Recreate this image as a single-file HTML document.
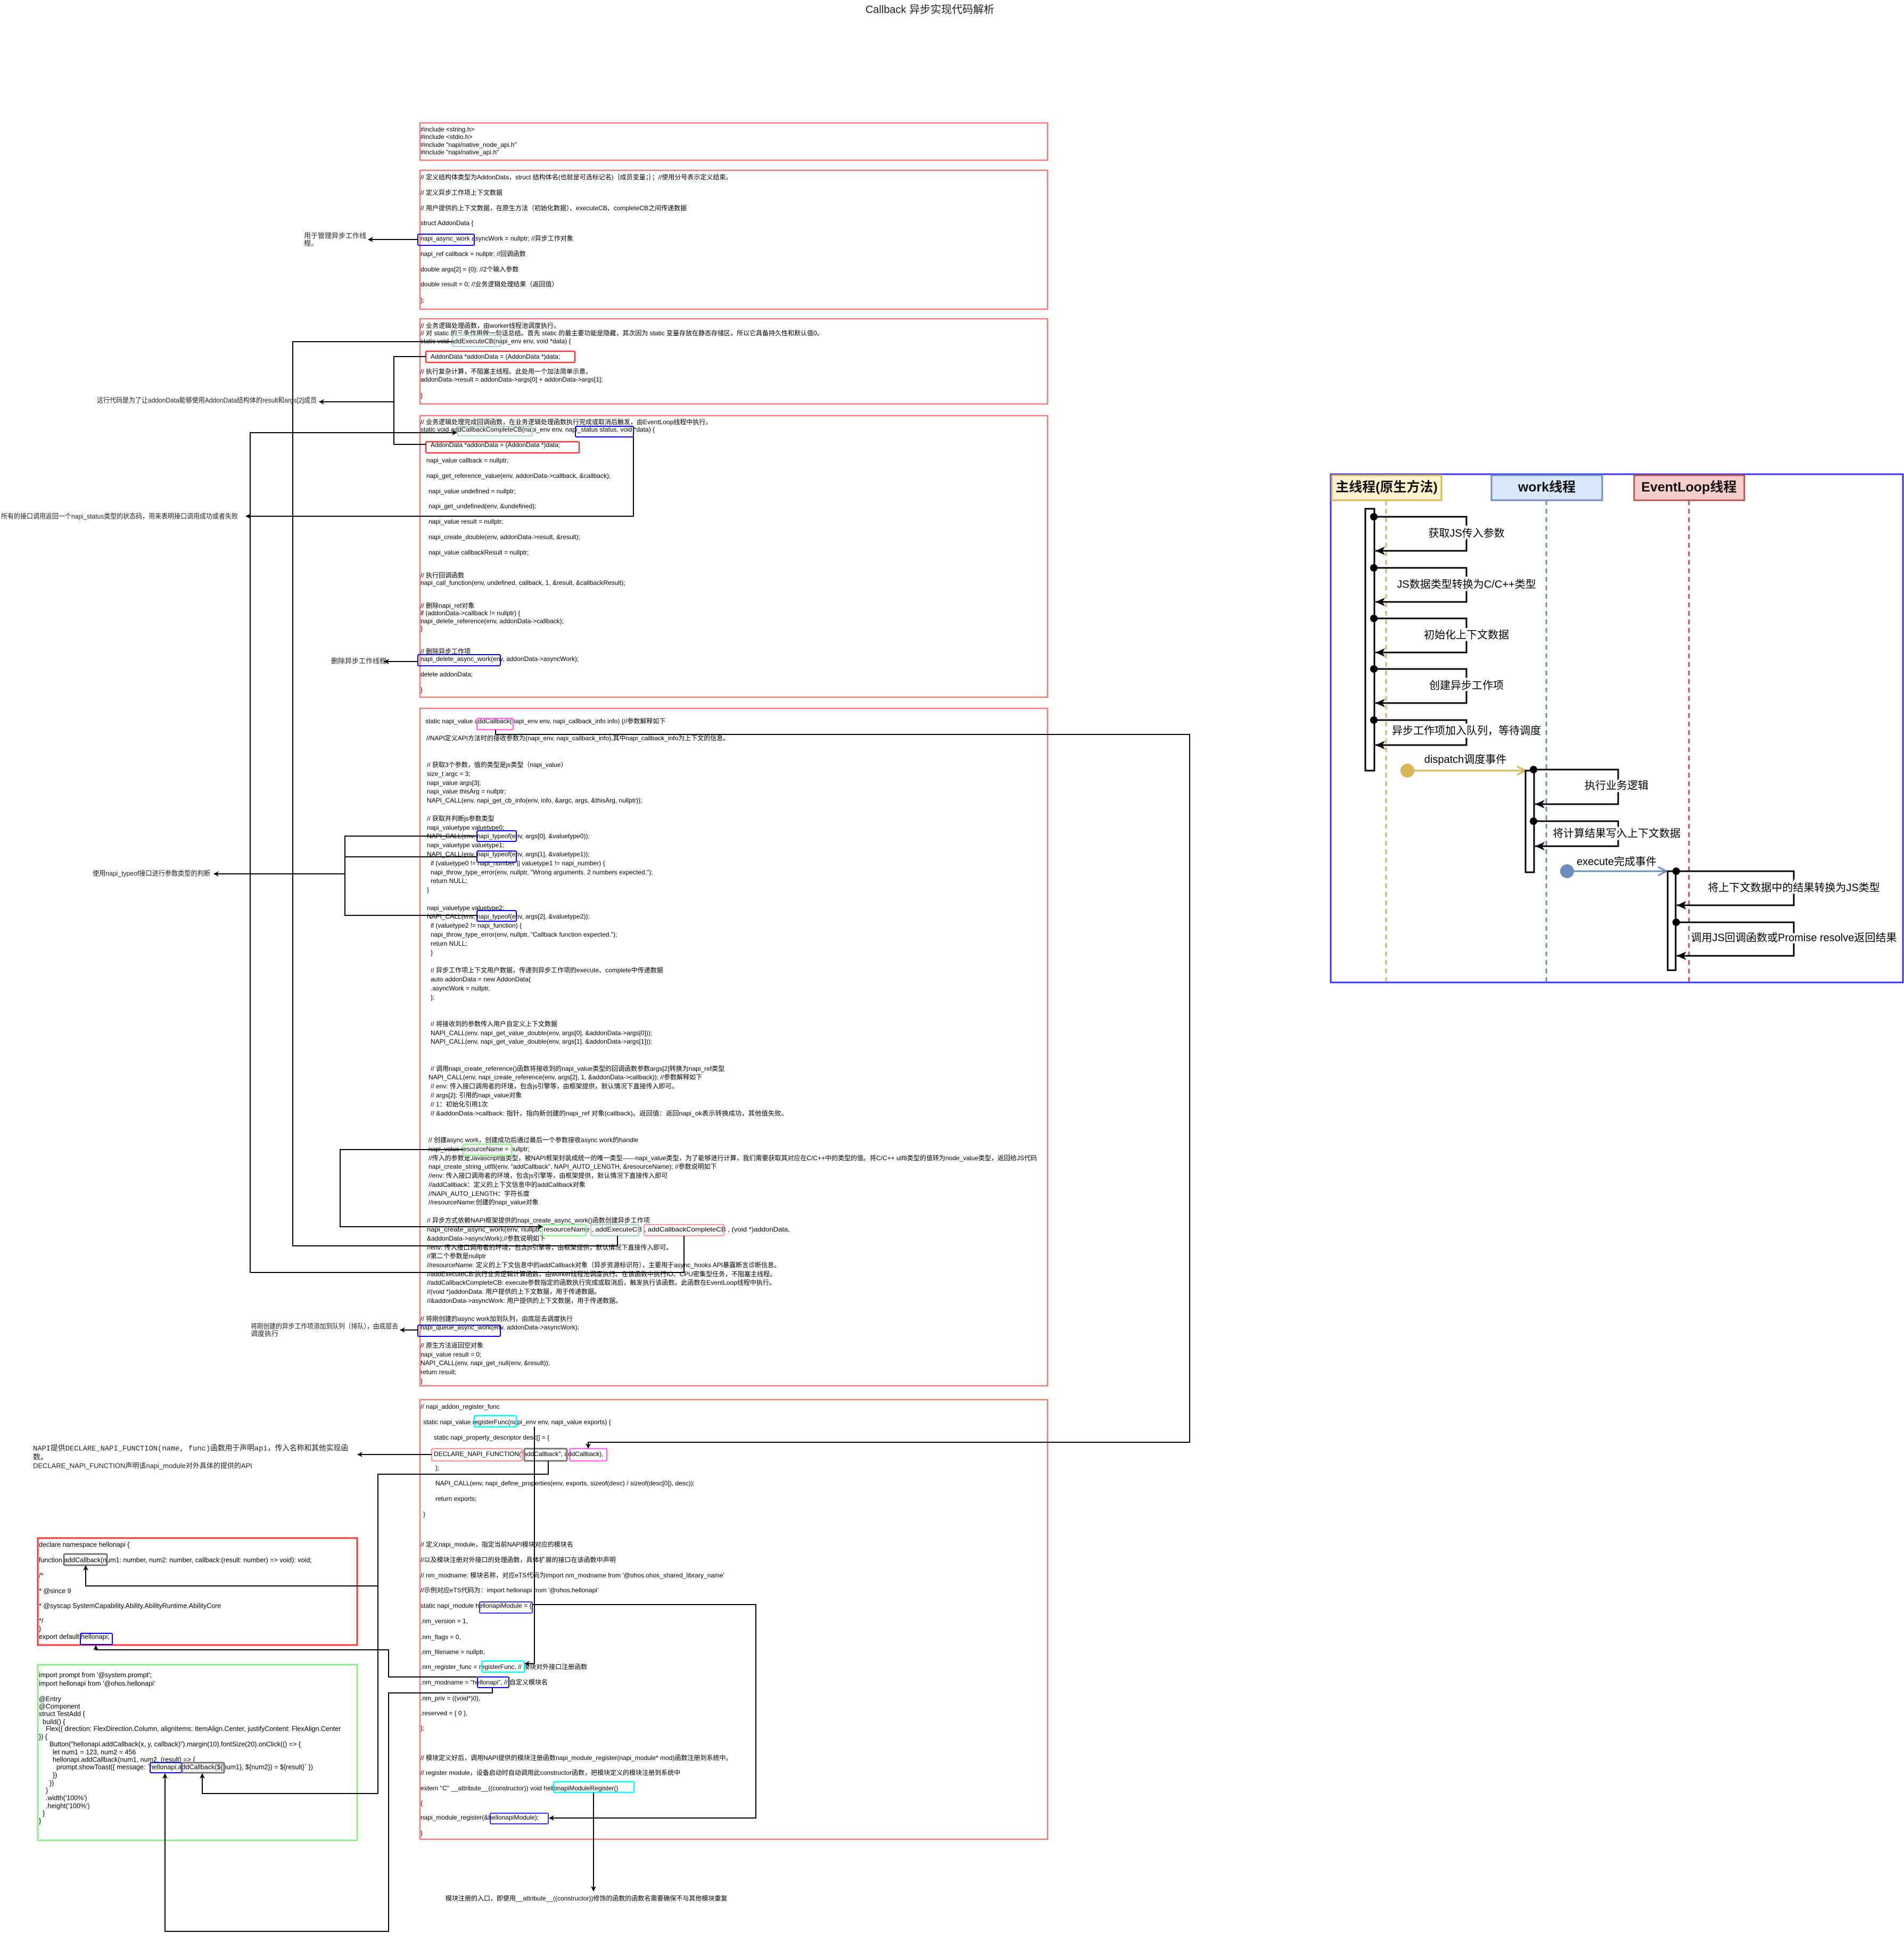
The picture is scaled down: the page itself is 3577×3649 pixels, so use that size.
<!DOCTYPE html>
<html><head><meta charset="utf-8">
<style>
html,body{margin:0;padding:0;background:#fff;}
svg{display:block;}
.c{font-family:"Liberation Sans","Noto Sans CJK SC",sans-serif;font-size:12px;fill:#000;dominant-baseline:middle;}
.n{font-family:"Liberation Sans","Noto Sans CJK SC",sans-serif;font-size:13px;fill:#222;dominant-baseline:middle;}
.j{font-family:"Liberation Sans","Noto Sans CJK SC",sans-serif;font-size:12.5px;fill:#000;dominant-baseline:middle;}
.s{font-family:"Liberation Sans","Noto Sans CJK SC",sans-serif;font-size:20px;fill:#000;dominant-baseline:middle;text-anchor:middle;paint-order:stroke;stroke:#fff;stroke-width:8px;}
.h{font-family:"Liberation Sans","Noto Sans CJK SC",sans-serif;font-size:25px;font-weight:bold;fill:#111;dominant-baseline:middle;text-anchor:middle;}
.box{fill:none;stroke:#ee7b78;stroke-width:2.5;}
.ln{fill:none;stroke:#000;stroke-width:2;}
</style></head><body>
<svg width="3577" height="3649" viewBox="0 0 3577 3649" xmlns="http://www.w3.org/2000/svg">
<defs>
<marker id="a" markerWidth="10" markerHeight="10" refX="9" refY="5" orient="auto" markerUnits="userSpaceOnUse"><path d="M0,0 L10,5 L0,10 L3,5 z" fill="#000"/></marker>
<marker id="b" markerWidth="20" markerHeight="20" refX="18" refY="10" orient="auto" markerUnits="userSpaceOnUse"><path d="M0,2 L18,10 L0,18 L5,10 z" fill="#000"/></marker>
<marker id="y" markerWidth="20" markerHeight="20" refX="18" refY="10" orient="auto" markerUnits="userSpaceOnUse"><path d="M2,2 L18,10 L2,18" fill="none" stroke="#d6b656" stroke-width="3"/></marker>
<marker id="bl" markerWidth="20" markerHeight="20" refX="18" refY="10" orient="auto" markerUnits="userSpaceOnUse"><path d="M2,2 L18,10 L2,18" fill="none" stroke="#6c8ebf" stroke-width="3"/></marker>
</defs>
<rect width="3577" height="3649" fill="#fff"/>
<text x="1747" y="19" font-family="Liberation Sans, Noto Sans CJK SC, sans-serif" font-size="20" text-anchor="middle" dominant-baseline="middle" fill="#222">Callback 异步实现代码解析</text>

<!-- code boxes -->
<rect class="box" x="789" y="231" width="1179" height="70"/>
<rect class="box" x="789" y="320" width="1179" height="261"/>
<rect class="box" x="789" y="599" width="1179" height="160"/>
<rect class="box" x="789" y="781" width="1179" height="529"/>
<rect class="box" x="789" y="1331" width="1179" height="1273"/>
<rect class="box" x="789" y="2630" width="1179" height="826"/>

<!-- box1 -->
<text class="c" x="790" y="244">#include &lt;string.h&gt;</text>
<text class="c" x="790" y="258">#include &lt;stdio.h&gt;</text>
<text class="c" x="790" y="273">#include "napi/native_node_api.h"</text>
<text class="c" x="790" y="287">#include "napi/native_api.h"</text>

<!-- box2 -->
<text class="c" x="790" y="334">// 定义结构体类型为AddonData，struct 结构体名(也就是可选标记名)｛成员变量；｝；//使用分号表示定义结束。</text>
<text class="c" x="790" y="363">// 定义异步工作项上下文数据</text>
<text class="c" x="790" y="392">// 用户提供的上下文数据，在原生方法（初始化数据）、executeCB、completeCB之间传递数据</text>
<text class="c" x="790" y="420">struct AddonData {</text>
<text class="c" x="790" y="449">napi_async_work asyncWork = nullptr; //异步工作对象</text>
<text class="c" x="790" y="478">napi_ref callback = nullptr; //回调函数</text>
<text class="c" x="790" y="507">double args[2] = {0}; //2个输入参数</text>
<text class="c" x="790" y="535">double result = 0; //业务逻辑处理结果（返回值）</text>
<text class="c" x="790" y="565">};</text>
<rect x="785" y="440" width="106" height="21" fill="none" stroke="#00f" stroke-width="2" rx="2"/>

<!-- box3 -->
<text class="c" x="790" y="613">// 业务逻辑处理函数，由worker线程池调度执行。</text>
<text class="c" x="790" y="627">// 对 static 的三条作用做一句话总结。首先 static 的最主要功能是隐藏，其次因为 static 变量存放在静态存储区，所以它具备持久性和默认值0。</text>
<text class="c" x="790" y="642">static void addExecuteCB(napi_env env, void *data) {</text>
<text class="c" x="809" y="671">AddonData *addonData = (AddonData *)data;</text>
<text class="c" x="790" y="699">// 执行复杂计算，不阻塞主线程。此处用一个加法简单示意。</text>
<text class="c" x="790" y="714">addonData-&gt;result = addonData-&gt;args[0] + addonData-&gt;args[1];</text>
<text class="c" x="790" y="744">}</text>
<rect x="850" y="630" width="91" height="21" fill="none" stroke="#a8d5cc" stroke-width="2" rx="2"/>
<rect x="800" y="660" width="280" height="21" fill="none" stroke="#f33" stroke-width="2.5" rx="2"/>

<!-- box4 -->
<text class="c" x="790" y="794">// 业务逻辑处理完成回调函数，在业务逻辑处理函数执行完成或取消后触发，由EventLoop线程中执行。</text>
<text class="c" x="790" y="808">static void addCallbackCompleteCB(napi_env env, napi_status status, void *data) {</text>
<text class="c" x="809" y="837">AddonData *addonData = (AddonData *)data;</text>
<text class="c" x="801" y="866">napi_value callback = nullptr;</text>
<text class="c" x="801" y="895">napi_get_reference_value(env, addonData-&gt;callback, &amp;callback);</text>
<text class="c" x="805" y="924">napi_value undefined = nullptr;</text>
<text class="c" x="805" y="952">napi_get_undefined(env, &amp;undefined);</text>
<text class="c" x="805" y="981">napi_value result = nullptr;</text>
<text class="c" x="805" y="1010">napi_create_double(env, addonData-&gt;result, &amp;result);</text>
<text class="c" x="805" y="1039">napi_value callbackResult = nullptr;</text>
<text class="c" x="790" y="1082">// 执行回调函数</text>
<text class="c" x="790" y="1096">napi_call_function(env, undefined, callback, 1, &amp;result, &amp;callbackResult);</text>
<text class="c" x="790" y="1139">// 删除napi_ref对象</text>
<text class="c" x="790" y="1153">if (addonData-&gt;callback != nullptr) {</text>
<text class="c" x="790" y="1168">napi_delete_reference(env, addonData-&gt;callback);</text>
<text class="c" x="790" y="1182">}</text>
<text class="c" x="790" y="1225">// 删除异步工作项</text>
<text class="c" x="790" y="1239">napi_delete_async_work(env, addonData-&gt;asyncWork);</text>
<text class="c" x="790" y="1268">delete addonData;</text>
<text class="c" x="790" y="1297">}</text>
<rect x="860" y="801" width="140" height="18" fill="none" stroke="#a8d5cc" stroke-width="2" rx="2"/>
<rect x="1081" y="801" width="109" height="20" fill="none" stroke="#00f" stroke-width="2" rx="2"/>
<rect x="800" y="830" width="288" height="21" fill="none" stroke="#f33" stroke-width="2.5" rx="2"/>
<rect x="785" y="1230" width="155" height="21" fill="none" stroke="#00f" stroke-width="2" rx="2"/>

<!-- box5 -->
<text class="c" x="799" y="1356">static napi_value addCallback(napi_env env, napi_callback_info info) {//参数解释如下</text>
<text class="c" x="801" y="1388">//NAPI定义API方法时的接收参数为(napi_env, napi_callback_info),其中napi_callback_info为上下文的信息。</text>
<text class="c" x="802" y="1438">// 获取3个参数，值的类型是js类型（napi_value）</text>
<text class="c" x="802" y="1455">size_t argc = 3;</text>
<text class="c" x="802" y="1472">napi_value args[3];</text>
<text class="c" x="802" y="1488">napi_value thisArg = nullptr;</text>
<text class="c" x="802" y="1505">NAPI_CALL(env, napi_get_cb_info(env, info, &amp;argc, args, &amp;thisArg, nullptr));</text>
<text class="c" x="802" y="1539">// 获取并判断js参数类型</text>
<text class="c" x="802" y="1556">napi_valuetype valuetype0;</text>
<text class="c" x="802" y="1572">NAPI_CALL(env, napi_typeof(env, args[0], &amp;valuetype0));</text>
<text class="c" x="802" y="1589">napi_valuetype valuetype1;</text>
<text class="c" x="802" y="1606">NAPI_CALL(env, napi_typeof(env, args[1], &amp;valuetype1));</text>
<text class="c" x="809" y="1623">if (valuetype0 != napi_number || valuetype1 != napi_number) {</text>
<text class="c" x="809" y="1640">napi_throw_type_error(env, nullptr, "Wrong arguments. 2 numbers expected.");</text>
<text class="c" x="809" y="1656">return NULL;</text>
<text class="c" x="802" y="1673">}</text>
<text class="c" x="802" y="1707">napi_valuetype valuetype2;</text>
<text class="c" x="802" y="1723">NAPI_CALL(env, napi_typeof(env, args[2], &amp;valuetype2));</text>
<text class="c" x="809" y="1740">if (valuetype2 != napi_function) {</text>
<text class="c" x="809" y="1757">napi_throw_type_error(env, nullptr, "Callback function expected.");</text>
<text class="c" x="809" y="1774">return NULL;</text>
<text class="c" x="809" y="1791">}</text>
<text class="c" x="809" y="1824">// 异步工作项上下文用户数据，传递到异步工作项的execute、complete中传递数据</text>
<text class="c" x="809" y="1841">auto addonData = new AddonData{</text>
<text class="c" x="809" y="1858">.asyncWork = nullptr,</text>
<text class="c" x="809" y="1875">};</text>
<text class="c" x="809" y="1925">// 将接收到的参数传入用户自定义上下文数据</text>
<text class="c" x="809" y="1942">NAPI_CALL(env, napi_get_value_double(env, args[0], &amp;addonData-&gt;args[0]));</text>
<text class="c" x="809" y="1958">NAPI_CALL(env, napi_get_value_double(env, args[1], &amp;addonData-&gt;args[1]));</text>
<text class="c" x="809" y="2009">// 调用napi_create_reference()函数将接收到的napi_value类型的回调函数参数args[2]转换为napi_ref类型</text>
<text class="c" x="805" y="2025">NAPI_CALL(env, napi_create_reference(env, args[2], 1, &amp;addonData-&gt;callback)); //参数解释如下</text>
<text class="c" x="809" y="2042">// env: 传入接口调用者的环境，包含js引擎等，由框架提供，默认情况下直接传入即可。</text>
<text class="c" x="809" y="2059">// args[2]: 引用的napi_value对象</text>
<text class="c" x="809" y="2076">// 1：初始化引用1次</text>
<text class="c" x="809" y="2093" textLength="671" lengthAdjust="spacingAndGlyphs">// &amp;addonData-&gt;callback: 指针，指向新创建的napi_ref 对象(callback)。返回值：返回napi_ok表示转换成功，其他值失败。</text>
<text class="c" x="805" y="2143">// 创建async work，创建成功后通过最后一个参数接收async work的handle</text>
<text class="c" x="805" y="2160">napi_value resourceName = nullptr;</text>
<text class="c" x="805" y="2177" textLength="1143" lengthAdjust="spacingAndGlyphs">//传入的参数是Javascript值类型，被NAPI框架封装成统一的唯一类型——napi_value类型，为了能够进行计算，我们需要获取其对应在C/C++中的类型的值。将C/C++ utf8类型的值转为node_value类型，返回给JS代码</text>
<text class="c" x="805" y="2193">napi_create_string_utf8(env, "addCallback", NAPI_AUTO_LENGTH, &amp;resourceName); //参数说明如下</text>
<text class="c" x="805" y="2210">//env: 传入接口调用者的环境，包含js引擎等，由框架提供，默认情况下直接传入即可</text>
<text class="c" x="805" y="2227">//addCallback：定义的上下文信息中的addCallback对象</text>
<text class="c" x="805" y="2244">//NAPI_AUTO_LENGTH：字符长度</text>
<text class="c" x="805" y="2260">//resourceName:创建的napi_value对象</text>
<text class="c" x="802" y="2294">// 异步方式依赖NAPI框架提供的napi_create_async_work()函数创建异步工作项</text>
<text class="c" x="802" y="2311" textLength="682" lengthAdjust="spacingAndGlyphs">napi_create_async_work(env, nullptr, resourceName , addExecuteCB , addCallbackCompleteCB ,  (void *)addonData,</text>
<text class="c" x="802" y="2328">&amp;addonData-&gt;asyncWork);//参数说明如下</text>
<text class="c" x="802" y="2345">//env: 传入接口调用者的环境，包含js引擎等，由框架提供，默认情况下直接传入即可。</text>
<text class="c" x="802" y="2361">//第二个参数是nullptr</text>
<text class="c" x="802" y="2378">//resourceName: 定义的上下文信息中的addCallback对象（异步资源标识符），主要用于async_hooks API暴露断言诊断信息。</text>
<text class="c" x="802" y="2395">//addExecuteCB:执行业务逻辑计算函数，由worker线程池调度执行。在该函数中执行IO、CPU密集型任务，不阻塞主线程。</text>
<text class="c" x="802" y="2411">//addCallbackCompleteCB: execute参数指定的函数执行完成或取消后，触发执行该函数。此函数在EventLoop线程中执行。</text>
<text class="c" x="802" y="2428">//(void *)addonData: 用户提供的上下文数据，用于传递数据。</text>
<text class="c" x="802" y="2445">//&amp;addonData-&gt;asyncWork: 用户提供的上下文数据，用于传递数据。</text>
<text class="c" x="790" y="2479">// 将刚创建的async work加到队列，由底层去调度执行</text>
<text class="c" x="790" y="2495">napi_queue_async_work(env, addonData-&gt;asyncWork);</text>
<text class="c" x="790" y="2529">// 原生方法返回空对象</text>
<text class="c" x="790" y="2546">napi_value result = 0;</text>
<text class="c" x="790" y="2562">NAPI_CALL(env, napi_get_null(env, &amp;result));</text>
<text class="c" x="790" y="2579">return result;</text>
<text class="c" x="790" y="2596">}</text>
<rect x="896" y="1350" width="68" height="21" fill="none" stroke="#f6f" stroke-width="2.5" rx="2"/>
<rect x="896" y="1561" width="74" height="20" fill="none" stroke="#00f" stroke-width="2" rx="2"/>
<rect x="896" y="1599" width="74" height="21" fill="none" stroke="#00f" stroke-width="2" rx="2"/>
<rect x="896" y="1711" width="74" height="20" fill="none" stroke="#00f" stroke-width="2" rx="2"/>
<rect x="870" y="2150" width="91" height="21" fill="none" stroke="#8f8" stroke-width="2.5" rx="2"/>
<rect x="1019" y="2301" width="82" height="21" fill="none" stroke="#8f8" stroke-width="2.5" rx="2"/>
<rect x="1110" y="2301" width="90" height="21" fill="none" stroke="#a8d5cc" stroke-width="2.5" rx="2"/>
<rect x="1210" y="2301" width="150" height="21" fill="none" stroke="#f99" stroke-width="2" rx="2"/>
<rect x="785" y="2490" width="155" height="21" fill="none" stroke="#00f" stroke-width="2" rx="2"/>

<!-- box6 -->
<text class="c" x="790" y="2644">// napi_addon_register_func</text>
<text class="c" x="795" y="2673">static napi_value registerFunc(napi_env env, napi_value exports) {</text>
<text class="c" x="815" y="2702">static napi_property_descriptor desc[] = {</text>
<text class="c" x="815" y="2733">DECLARE_NAPI_FUNCTION("addCallback", addCallback),</text>
<text class="c" x="818" y="2759">};</text>
<text class="c" x="818" y="2788">NAPI_CALL(env, napi_define_properties(env, exports, sizeof(desc) / sizeof(desc[0]), desc));</text>
<text class="c" x="818" y="2817">return exports;</text>
<text class="c" x="795" y="2846">}</text>
<text class="c" x="790" y="2903">// 定义napi_module，指定当前NAPI模块对应的模块名</text>
<text class="c" x="790" y="2932">//以及模块注册对外接口的处理函数，具体扩展的接口在该函数中声明</text>
<text class="c" x="790" y="2961">// nm_modname: 模块名称，对应eTS代码为import nm_modname from '@ohos.ohos_shared_library_name'</text>
<text class="c" x="790" y="2989">//示例对应eTS代码为：import hellonapi from '@ohos.hellonapi'</text>
<text class="c" x="790" y="3018">static napi_module hellonapiModule = {</text>
<text class="c" x="790" y="3047">.nm_version = 1,</text>
<text class="c" x="790" y="3077">.nm_flags = 0,</text>
<text class="c" x="790" y="3105">.nm_filename = nullptr,</text>
<text class="c" x="790" y="3133">.nm_register_func = registerFunc, // 模块对外接口注册函数</text>
<text class="c" x="790" y="3162">.nm_modname = "hellonapi", // 自定义模块名</text>
<text class="c" x="790" y="3192">.nm_priv = ((void*)0),</text>
<text class="c" x="790" y="3220">.reserved = { 0 },</text>
<text class="c" x="790" y="3248">};</text>
<text class="c" x="790" y="3304">// 模块定义好后，调用NAPI提供的模块注册函数napi_module_register(napi_module* mod)函数注册到系统中。</text>
<text class="c" x="790" y="3332">// register module，设备启动时自动调用此constructor函数，把模块定义的模块注册到系统中</text>
<text class="c" x="790" y="3361">extern "C" __attribute__((constructor)) void hellonapiModuleRegister()</text>
<text class="c" x="790" y="3389">{</text>
<text class="c" x="790" y="3416">napi_module_register(&amp;hellonapiModule);</text>
<text class="c" x="790" y="3445">}</text>
<rect x="891" y="2660" width="79" height="21" fill="none" stroke="#0ff" stroke-width="2.5" rx="2"/>
<rect x="811" y="2722" width="170" height="23" fill="none" stroke="#f99" stroke-width="2.5" rx="2"/>
<rect x="985" y="2722" width="80" height="23" fill="none" stroke="#777" stroke-width="3" rx="2"/>
<rect x="1070" y="2722" width="70" height="23" fill="none" stroke="#f6f" stroke-width="2.5" rx="2"/>
<rect x="901" y="3010" width="99" height="21" fill="none" stroke="#33f" stroke-width="2" rx="2"/>
<rect x="905" y="3121" width="80" height="21" fill="none" stroke="#0ff" stroke-width="2.5" rx="2"/>
<rect x="897" y="3151" width="59" height="20" fill="none" stroke="#00f" stroke-width="2" rx="2"/>
<rect x="1040" y="3348" width="151" height="20" fill="none" stroke="#0ff" stroke-width="2.5" rx="2"/>
<rect x="921" y="3407" width="109" height="20" fill="none" stroke="#33f" stroke-width="2" rx="2"/>
<text class="c" x="837" y="3568">模块注册的入口，即使用__attribute__((constructor))修饰的函数的函数名需要确保不与其他模块重复</text>

<!-- left annotations -->
<text class="n" x="571" y="444">用于管理异步工作线</text>
<text class="n" x="571" y="458">程。</text>
<text class="n" x="182" y="753" textLength="413" lengthAdjust="spacingAndGlyphs">这行代码是为了让addonData能够使用AddonData结构体的result和args[2]成员</text>
<text class="n" x="2" y="971" textLength="445" lengthAdjust="spacingAndGlyphs">所有的接口调用返回一个napi_status类型的状态码，用来表明接口调用成功或者失败</text>
<text class="n" x="622" y="1243">删除异步工作线程</text>
<text class="n" x="174" y="1642" textLength="221" lengthAdjust="spacingAndGlyphs">使用napi_typeof接口进行参数类型的判断</text>
<text class="n" x="471" y="2493" textLength="277" lengthAdjust="spacingAndGlyphs">将刚创建的异步工作项添加到队列（排队），由底层去</text>
<text class="n" x="471" y="2507">调度执行</text>
<text x="62" y="2722" font-family="Liberation Mono, Noto Sans CJK SC, monospace" font-size="14" fill="#222" dominant-baseline="middle" textLength="592" lengthAdjust="spacingAndGlyphs">NAPI提供DECLARE_NAPI_FUNCTION(name, func)函数用于声明api，传入名称和其他实现函</text>
<text x="62" y="2739" font-family="Liberation Mono, Noto Sans CJK SC, monospace" font-size="14" fill="#222" dominant-baseline="middle">数。</text>
<text class="n" x="62" y="2755">DECLARE_NAPI_FUNCTION声明该napi_module对外具体的提供的API</text>

<!-- left red box -->
<rect x="71" y="2890" width="600" height="201" fill="none" stroke="#f33" stroke-width="3"/>
<text class="j" x="73" y="2903">declare namespace hellonapi {</text>
<text class="j" x="73" y="2932">function addCallback(num1: number, num2: number, callback:(result: number) =&gt; void): void;</text>
<text class="j" x="73" y="2961">/*</text>
<text class="j" x="73" y="2990">* @since 9</text>
<text class="j" x="73" y="3018">* @syscap SystemCapability.Ability.AbilityRuntime.AbilityCore</text>
<text class="j" x="73" y="3046">*/</text>
<text class="j" x="73" y="3061">}</text>
<text class="j" x="73" y="3076">export default hellonapi;</text>
<rect x="120" y="2920" width="81" height="21" fill="none" stroke="#777" stroke-width="3" rx="2"/>
<rect x="151" y="3069" width="60" height="21" fill="none" stroke="#00f" stroke-width="2" rx="2"/>

<!-- left green box -->
<rect x="71" y="3128" width="600" height="330" fill="none" stroke="#8e8" stroke-width="3"/>
<text class="j" x="73" y="3148">import prompt from '@system.prompt';</text>
<text class="j" x="73" y="3164">import hellonapi from '@ohos.hellonapi'</text>
<text class="j" x="73" y="3193">@Entry</text>
<text class="j" x="73" y="3207">@Component</text>
<text class="j" x="73" y="3221">struct TestAdd {</text>
<text class="j" x="80" y="3236">build() {</text>
<text class="j" x="86" y="3249">Flex({ direction: FlexDirection.Column, alignItems: ItemAlign.Center, justifyContent: FlexAlign.Center</text>
<text class="j" x="73" y="3264">}) {</text>
<text class="j" x="93" y="3278">Button("hellonapi.addCallback(x, y, callback)").margin(10).fontSize(20).onClick(() =&gt; {</text>
<text class="j" x="99" y="3293">let num1 = 123, num2 = 456</text>
<text class="j" x="99" y="3307">hellonapi.addCallback(num1, num2, (result) =&gt; {</text>
<text class="j" x="106" y="3321">prompt.showToast({ message: `hellonapi.addCallback(${num1}, ${num2}) = ${result}` })</text>
<text class="j" x="99" y="3336">})</text>
<text class="j" x="93" y="3351">})</text>
<text class="j" x="86" y="3365">}</text>
<text class="j" x="86" y="3379">.width('100%')</text>
<text class="j" x="86" y="3394">.height('100%')</text>
<text class="j" x="80" y="3408">}</text>
<text class="j" x="73" y="3422">}</text>
<rect x="282" y="3312" width="59" height="19" fill="none" stroke="#00f" stroke-width="2" rx="2"/>
<rect x="342" y="3312" width="79" height="19" fill="none" stroke="#777" stroke-width="3" rx="2"/>

<!-- connectors -->
<path class="ln" d="M785,450 L692,450" marker-end="url(#a)"/>
<path class="ln" d="M850,642 L550,642 L550,2341 L1160,2341 L1160,2322"/>
<path class="ln" d="M800,670 L740,670 L740,835 L800,835"/>
<path class="ln" d="M740,755 L600,755" marker-end="url(#a)"/>
<path class="ln" d="M470,2391 L1285,2391 L1285,2322"/>
<path class="ln" d="M470,2391 L470,813 L858,813" marker-end="url(#a)"/>
<path class="ln" d="M1190,821 L1190,970 L462,970" marker-end="url(#a)"/>
<path class="ln" d="M785,1243 L722,1243" marker-end="url(#a)"/>
<path class="ln" d="M896,1571 L648,1571 L648,1720 L896,1720"/>
<path class="ln" d="M648,1610 L896,1610"/>
<path class="ln" d="M648,1642 L402,1642" marker-end="url(#a)"/>
<path class="ln" d="M870,2160 L639,2160 L639,2305 L1019,2305" marker-end="url(#a)"/>
<path class="ln" d="M785,2499 L752,2499" marker-end="url(#a)"/>
<path class="ln" d="M931,1371 L931,1380 L2235,1380 L2235,2710 L1105,2710 L1105,2721" marker-end="url(#a)"/>
<path class="ln" d="M811,2733 L672,2733" marker-end="url(#a)"/>
<path class="ln" d="M1030,2745 L1030,2770 L710,2770 L710,3370 L380,3370 L380,3333" marker-end="url(#a)"/>
<path class="ln" d="M710,2980 L161,2980 L161,2942" marker-end="url(#a)"/>
<path class="ln" d="M1004,2681 L1004,3126 L986,3126" marker-end="url(#a)"/>
<path class="ln" d="M896,3151 L730,3151 L730,3100 L180,3100 L180,3092" marker-end="url(#a)"/>
<path class="ln" d="M925,3171 L925,3181 L730,3181 L730,3629 L310,3629 L310,3333" marker-end="url(#a)"/>
<path class="ln" d="M1000,3015 L1420,3015 L1420,3416 L1032,3416" marker-end="url(#a)"/>
<path class="ln" d="M1115,3368 L1115,3553" marker-end="url(#a)" stroke-width="1.5"/>

<!-- sequence diagram -->
<rect x="2500" y="891" width="1075" height="955" fill="none" stroke="#33f" stroke-width="3"/>
<line x1="2604" y1="940" x2="2604" y2="1846" stroke="#d6b656" stroke-width="3" stroke-dasharray="9,7"/>
<line x1="2905" y1="940" x2="2905" y2="1846" stroke="#6c8ebf" stroke-width="3" stroke-dasharray="9,7"/>
<line x1="3173" y1="940" x2="3173" y2="1846" stroke="#b85450" stroke-width="3" stroke-dasharray="9,7"/>
<rect x="2502" y="893" width="206" height="47" fill="#fff2cc" stroke="#d6b656" stroke-width="3"/>
<text class="h" x="2605" y="917">主线程(原生方法)</text>
<rect x="2802" y="893" width="208" height="47" fill="#dae8fc" stroke="#6c8ebf" stroke-width="3"/>
<text class="h" x="2906" y="917">work线程</text>
<rect x="3070" y="893" width="207" height="47" fill="#f8cecc" stroke="#b85450" stroke-width="3"/>
<text class="h" x="3173" y="917">EventLoop线程</text>

<rect x="2565" y="956" width="17" height="492" fill="#fff" stroke="#000" stroke-width="3"/>
<g fill="none" stroke="#000" stroke-width="3">
<path d="M2581,971 H2755 V1035 H2584" marker-end="url(#b)"/>
<path d="M2581,1067 H2755 V1131 H2584" marker-end="url(#b)"/>
<path d="M2581,1162 H2755 V1226 H2584" marker-end="url(#b)"/>
<path d="M2581,1257 H2755 V1321 H2584" marker-end="url(#b)"/>
<path d="M2581,1353 H2755 V1400 H2584" marker-end="url(#b)"/>
</g>
<g fill="#000"><circle cx="2581" cy="971" r="7"/><circle cx="2581" cy="1067" r="7"/><circle cx="2581" cy="1162" r="7"/><circle cx="2581" cy="1257" r="7"/><circle cx="2581" cy="1353" r="7"/></g>
<text class="s" x="2755" y="1003">获取JS传入参数</text>
<text class="s" x="2755" y="1099">JS数据类型转换为C/C++类型</text>
<text class="s" x="2755" y="1194">初始化上下文数据</text>
<text class="s" x="2755" y="1289">创建异步工作项</text>
<text class="s" x="2755" y="1374">异步工作项加入队列，等待调度</text>

<line x1="2644" y1="1448" x2="2866" y2="1448" stroke="#d6b656" stroke-width="3" marker-end="url(#y)"/>
<circle cx="2644" cy="1448" r="13" fill="#d6b656"/>
<text class="s" x="2753" y="1428" style="stroke-width:0">dispatch调度事件</text>

<rect x="2866" y="1448" width="16" height="191" fill="#fff" stroke="#000" stroke-width="3"/>
<g fill="none" stroke="#000" stroke-width="3">
<path d="M2881,1446 H3040 V1511 H2884" marker-end="url(#b)"/>
<path d="M2881,1543 H3040 V1590 H2884" marker-end="url(#b)"/>
</g>
<circle cx="2881" cy="1446" r="7"/><circle cx="2881" cy="1543" r="7"/>
<text class="s" x="3037" y="1477">执行业务逻辑</text>
<text class="s" x="3037" y="1567">将计算结果写入上下文数据</text>

<line x1="2944" y1="1637" x2="3131" y2="1637" stroke="#6c8ebf" stroke-width="3" marker-end="url(#bl)"/>
<circle cx="2944" cy="1637" r="13" fill="#6c8ebf"/>
<text class="s" x="3037" y="1620" style="stroke-width:0">execute完成事件</text>

<rect x="3133" y="1637" width="15" height="186" fill="#fff" stroke="#000" stroke-width="3"/>
<g fill="none" stroke="#000" stroke-width="3">
<path d="M3149,1637 H3370 V1701 H3150" marker-end="url(#b)"/>
<path d="M3149,1733 H3370 V1796 H3150" marker-end="url(#b)"/>
</g>
<circle cx="3149" cy="1637" r="7"/><circle cx="3149" cy="1733" r="7"/>
<text class="s" x="3370" y="1669">将上下文数据中的结果转换为JS类型</text>
<text class="s" x="3370" y="1763">调用JS回调函数或Promise resolve返回结果</text>
</svg>
</body></html>
